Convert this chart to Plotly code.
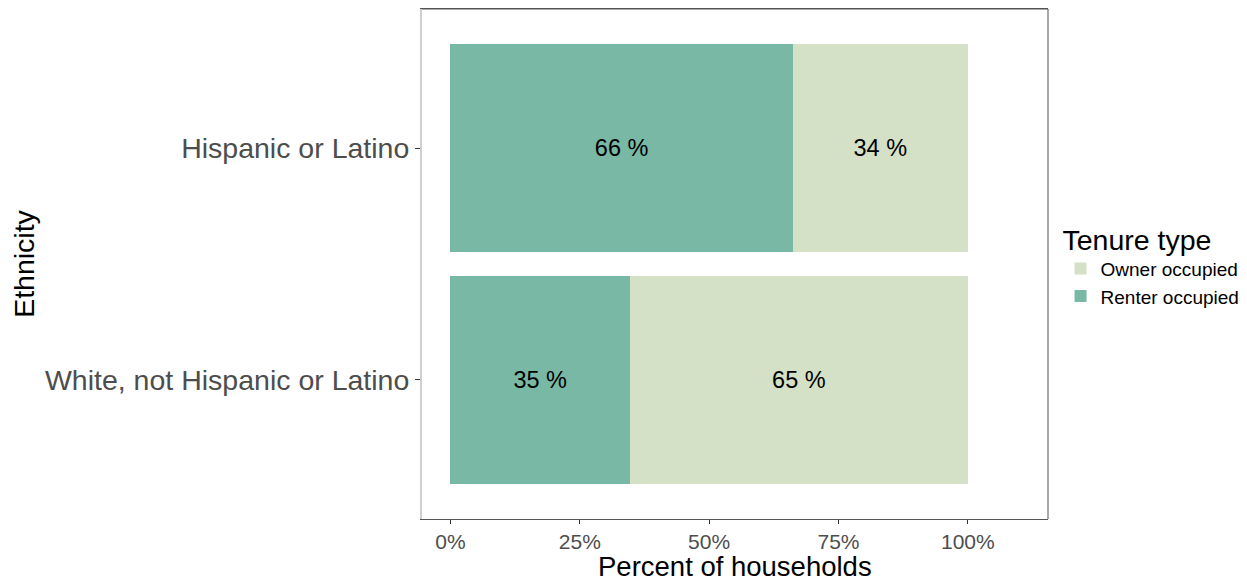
import plotly.graph_objects as go

# data
ethnicity = ["White, not Hispanic or Latino", "Hispanic or Latino"]
renter_share = [0.347, 0.662]
owner_share = [0.653, 0.338]
renter_labels = ["35 %", "66 %"]
owner_labels = ["65 %", "34 %"]
x_ticks = [0, 0.25, 0.5, 0.75, 1.0]
x_tick_text = ["0%", "25%", "50%", "75%", "100%"]

renter_col = "#78B8A5"
owner_col = "#D4E1C6"
font = "Liberation Sans, Arial, sans-serif"

fig = go.Figure()
fig.add_trace(go.Bar(y=ethnicity, x=renter_share, orientation="h", name="Renter occupied",
                     marker=dict(color=renter_col, line=dict(width=0)), width=0.9,
                     text=renter_labels, textposition="inside", insidetextanchor="middle",
                     textfont=dict(size=23.5, color="black", family=font)))
fig.add_trace(go.Bar(y=ethnicity, x=owner_share, orientation="h", name="Owner occupied",
                     marker=dict(color=owner_col, line=dict(width=0)), width=0.9,
                     text=owner_labels, textposition="inside", insidetextanchor="middle",
                     textfont=dict(size=23.5, color="black", family=font)))

# panel border: right and top dark, left is a lighter line in the original
fig.add_shape(type="line", xref="paper", yref="paper", x0=1, x1=1, y0=0, y1=1,
              line=dict(color="#555555", width=1))
fig.add_shape(type="line", xref="paper", yref="paper", x0=0, x1=1, y0=1, y1=1,
              line=dict(color="#555555", width=1))

# x axis title as annotation, pinned near the bottom edge
fig.add_annotation(text="Percent of households", xref="paper", yref="paper",
                   x=0.5, y=-0.128, xanchor="center", yanchor="bottom", showarrow=False,
                   font=dict(size=27.5, color="black", family=font))

fig.update_layout(
    barmode="stack",
    width=1247, height=584,
    margin=dict(l=414, r=207, t=1, b=73, autoexpand=False),
    paper_bgcolor="white", plot_bgcolor="white",
    font=dict(family=font, color="black"),
    uniformtext=dict(mode="show", minsize=10),
    legend=dict(title=dict(text="Tenure type", font=dict(size=28.5, color="black")),
                traceorder="reversed", font=dict(size=19, color="black"),
                x=1.02, xanchor="left", y=0.5, yanchor="middle",
                itemwidth=30, tracegroupgap=0),
    showlegend=True,
)
fig.update_xaxes(range=[-0.055, 1.155], tickvals=x_ticks, ticktext=x_tick_text,
                 tickfont=dict(size=21, color="#4D4D4D"), ticks="outside", ticklen=4,
                 tickcolor="#333333", showgrid=False, zeroline=False, automargin=False,
                 showline=True, linecolor="#555555", linewidth=1, mirror=True)
fig.update_yaxes(range=[-0.6, 1.6], tickfont=dict(size=28.5, color="#4D4D4D"), ticks="outside",
                 ticklen=5, tickcolor="#333333", showgrid=False, zeroline=False, automargin=False,
                 showline=True, linecolor="#CFCFCF", linewidth=2,
                 title=dict(text="Ethnicity", font=dict(size=28.5, color="black"), standoff=6))

fig.write_html("out.html")
